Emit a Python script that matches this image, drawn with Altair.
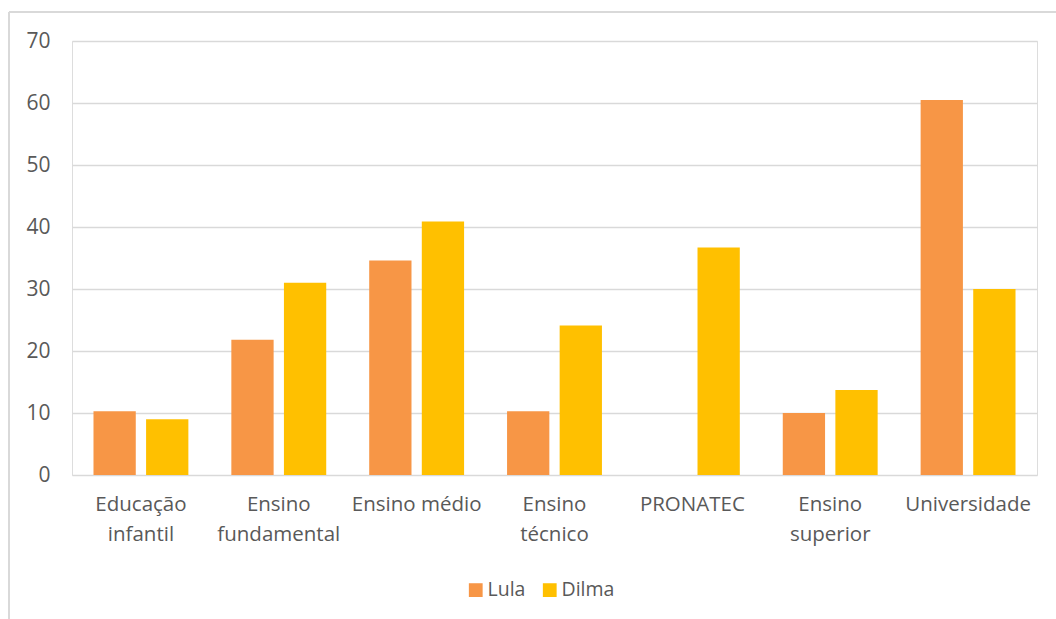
import altair as alt
import pandas as pd

# Gasto por etapa de ensino, governos Lula e Dilma
categorias = [
    "Educação infantil",
    "Ensino fundamental",
    "Ensino médio",
    "Ensino técnico",
    "PRONATEC",
    "Ensino superior",
    "Universidade",
]
lula = [10.3, 21.8, 34.6, 10.3, None, 10.0, 60.5]
dilma = [9.0, 31.0, 40.9, 24.1, 36.7, 13.7, 30.0]
series = ["Lula", "Dilma"]
cores = ["#F79646", "#FFC000"]
y_ticks = [0, 10, 20, 30, 40, 50, 60, 70]

rows = []
for cat, a, b in zip(categorias, lula, dilma):
    if a is not None:
        rows.append({"categoria": cat, "governo": "Lula", "valor": a})
    if b is not None:
        rows.append({"categoria": cat, "governo": "Dilma", "valor": b})
df = pd.DataFrame(rows)

FONT = "Open Sans"
TEXT = "#595959"
GRID = "#d9d9d9"

bars = alt.Chart(df).mark_bar().encode(
    x=alt.X(
        "categoria:N",
        sort=categorias,
        scale=alt.Scale(paddingInner=0, paddingOuter=0),
        axis=alt.Axis(
            title=None,
            labelAngle=0,
            labelFontSize=20.5,
            labelColor=TEXT,
            labelFont=FONT,
            labelPadding=19,
            labelLineHeight=30,
            labelBaseline="top",
            ticks=False,
            domain=False,
            labelExpr="datum.value == 'Ensino médio' ? datum.value : split(datum.value, ' ')",
        ),
    ),
    xOffset=alt.XOffset(
        "governo:N",
        sort=series,
        scale=alt.Scale(paddingInner=0.196, paddingOuter=0.4085),
    ),
    y=alt.Y(
        "valor:Q",
        scale=alt.Scale(domain=[0, 70], nice=False),
        axis=alt.Axis(
            title=None,
            values=y_ticks,
            labelFontSize=21,
            labelColor=TEXT,
            labelFont=FONT,
            labelPadding=22,
            ticks=False,
            domain=False,
            gridColor=GRID,
            gridWidth=1.5,
        ),
    ),
    color=alt.Color(
        "governo:N",
        sort=series,
        scale=alt.Scale(domain=series, range=cores),
        legend=alt.Legend(
            title=None,
            orient="none",
            direction="horizontal",
            legendX=394,
            legendY=539,
            symbolType="square",
            symbolSize=190,
            symbolStrokeWidth=0,
            symbolOpacity=1,
            labelFontSize=19.5,
            labelColor=TEXT,
            labelFont=FONT,
            labelOffset=2,
            columnPadding=14,
            padding=0,
        ),
    ),
)

# moldura do gráfico
frame_src = pd.DataFrame({"k": [0]})
left_edge = alt.Chart(frame_src).mark_rule(color=GRID, strokeWidth=2, clip=False).encode(
    x=alt.value(-63), y=alt.value(-29), y2=alt.value(600)
)
top_edge = alt.Chart(frame_src).mark_rule(color=GRID, strokeWidth=2, clip=False).encode(
    x=alt.value(-63), x2=alt.value(1000), y=alt.value(-29)
)

chart = alt.layer(left_edge, top_edge, bars).properties(
    width=965,
    height=434,
    autosize=alt.AutoSizeParams(type="none"),
    padding={"left": 72, "top": 41, "right": 19, "bottom": 144},
).configure_view(stroke=None).configure(background="white")

chart.save("out.html", embed_options={"renderer": "svg", "actions": False})
